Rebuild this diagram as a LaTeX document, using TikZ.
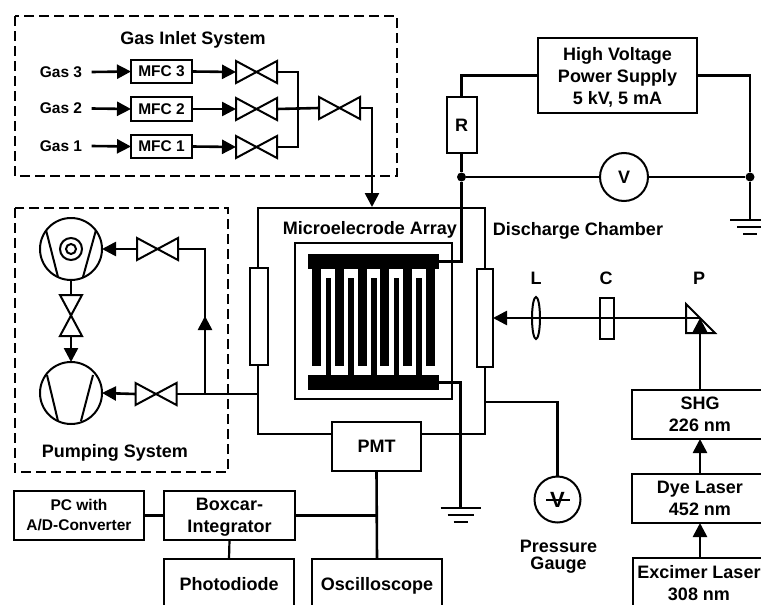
\documentclass[tikz,border=0pt]{standalone}
\usepackage{fontspec}
\setmainfont{Liberation Sans}
\usetikzlibrary{arrows.meta,calc}
\tikzset{
  x=1pt,y=-1pt,
  txt/.style={font=\bfseries\fontsize{18}{22}\selectfont,inner sep=0pt,outer sep=0pt,align=center},
  small/.style={font=\bfseries\fontsize{15.5}{20}\selectfont,inner sep=0pt,outer sep=0pt,align=center},
  box/.style={draw,line width=2pt,fill=white,inner sep=0pt,outer sep=0pt,align=center},
  bigbox/.style={box,font=\bfseries\fontsize{18}{22}\selectfont},
  smallbox/.style={box,font=\bfseries\fontsize{15.5}{20}\selectfont},
  conn/.style={line width=2.6pt},
  thin conn/.style={line width=2.2pt},
  flow/.style={line width=2.6pt,-{Triangle[length=14pt,width=14pt]}},
  dashedbox/.style={draw,line width=2.5pt,dash pattern=on 10pt off 5pt},
  bow/.style={line width=2pt,line join=miter,fill=white},
  pump/.style={circle,draw,line width=2pt,fill=white,inner sep=0pt,outer sep=0pt,minimum size=62pt},
  dot/.style={circle,fill=black,inner sep=0pt,minimum size=9pt},
  elec/.style={fill=black,draw=none,inner sep=0pt,outer sep=0pt},
}
\newcommand{\valveH}[3]{%
  \node[inner sep=0pt,outer sep=0pt,minimum width=41pt,minimum height=22pt] (#1) at (#2,#3) {};
  \draw[bow] (#1.north west) -- (#1.south east) -- (#1.north east) -- (#1.south west) -- cycle;}
\newcommand{\valveV}[3]{%
  \node[inner sep=0pt,outer sep=0pt,minimum width=22pt,minimum height=41pt] (#1) at (#2,#3) {};
  \draw[bow] (#1.north west) -- (#1.south east) -- (#1.south west) -- (#1.north east) -- cycle;}
\newcommand{\gnd}[1]{%
  \draw[line width=2.4pt] ($(#1)+(-20,0)$) -- ($(#1)+(20,0)$);
  \draw[line width=2.4pt] ($(#1)+(-13,7)$) -- ($(#1)+(13,7)$);
  \draw[line width=2.4pt] ($(#1)+(-7,14)$) -- ($(#1)+(7,14)$);}
\begin{document}
\begin{tikzpicture}
\useasboundingbox (0,0) rectangle (761,605);
\clip (0,0) rectangle (761,605);

% Dashed enclosures
\draw[dashedbox] (15,16) rectangle (397,176);
\draw[dashedbox] (15,208) rectangle (228,472);
\node[txt] (gastitle) at (193,39.5) {Gas Inlet System};
\node[txt] (pumptitle) at (115,453) {Pumping System};

% Gas inlet
\node[small,inner xsep=9.5pt] (g3) at (61,72) {Gas 3};
\node[small,inner xsep=9.5pt] (g2) at (61,108.5) {Gas 2};
\node[small,inner xsep=9.5pt] (g1) at (61,146) {Gas 1};
\node[smallbox,minimum width=61pt,minimum height=23pt] (m3) at (161.5,71.5) {MFC 3};
\node[smallbox,minimum width=61pt,minimum height=24pt] (m2) at (161.5,109) {MFC 2};
\node[smallbox,minimum width=61pt,minimum height=23pt] (m1) at (161.5,146.5) {MFC 1};
\valveH{v3}{256.5}{72}
\valveH{v2}{256.5}{109}
\valveH{v1}{256.5}{147}
\valveH{vm}{339.5}{108}
\foreach \a/\b in {g3/m3,g2/m2,g1/m1,m3/v3,m2/v2,m1/v1}
  \draw[flow] (\a.east) -- (\b.west);
\coordinate (cj) at (298,108);
\draw[conn,line join=miter] (v3.east) -| (cj) |- (v1.east);
\draw[conn] (v2.east) -- (vm.west);

% Chamber
\node[draw,line width=2pt,inner sep=0pt,outer sep=0pt,minimum width=227pt,minimum height=226pt] (chamber) at (371.5,321) {};
\node[draw,line width=2pt,inner sep=0pt,outer sep=0pt,minimum width=157pt,minimum height=156pt] (inner) at (373.5,321) {};
\draw[flow] (vm.east) -| (372,207);
\node[txt] (mea) at (370,229.5) {Microelecrode Array};
\node[txt] (dc) at (578,231) {Discharge Chamber};
\node[box,minimum width=18pt,minimum height=97pt] (winl) at (259,316.5) {};
\node[box,minimum width=16pt,minimum height=98pt] (winr) at (485,318) {};

% Electrodes
\node[elec,minimum width=131pt,minimum height=15pt] (etop) at (373.5,261.5) {};
\node[elec,minimum width=131pt,minimum height=15pt] (ebot) at (373.5,382.5) {};
\foreach \x in {312,335,358,380,403,425.5}
  \fill (\x,268) rectangle (\x+9,366);
\foreach \x in {325.5,348,371,393.5,416}
  \fill (\x,278) rectangle (\x+5.5,376);

% Power supply and resistor
\node[bigbox,minimum width=159pt,minimum height=75pt] (hv) at (617.5,75.5) {\rule{0pt}{16.5pt}High Voltage\\Power Supply\\5 kV, 5 mA};
\node[bigbox,minimum width=30pt,minimum height=56pt] (R) at (461.5,125) {R};
\node[circle,draw,line width=2pt,fill=white,inner sep=0pt,outer sep=0pt,minimum size=48pt,font=\bfseries\fontsize{18}{22}\selectfont] (V) at (624,177) {V};
\node[dot] (d1) at (461.5,177) {};
\node[dot] (d2) at (750,177) {};
\coordinate (g1top) at (750,220);
\coordinate (g2top) at (460.5,508);
\draw[conn] (hv.west) -| (R.north);
\draw[conn] (R.south) -- (d1);
\draw[conn] (d1) -- (V.west);
\draw[conn] (V.east) -- (d2);
\draw[conn] (hv.east) -| (d2);
\draw[conn] (d2) -- (g1top);
\gnd{g1top}
\draw[conn,line join=miter] (d1) |- (etop.east);
\draw[conn,line join=miter] (ebot.east) -| (g2top);
\gnd{g2top}

% Pumps
\node[pump] (p1) at (71,249) {};
\node[pump] (p2) at (71,393) {};
\draw[line width=2pt] (46,230) -- (58,277) (96,230) -- (83,277);
\draw[line width=2pt] (47,375) -- (58,421) (93,375) -- (81,421);
\draw[line width=2pt] (71,249) circle (11) (71,249) circle (5);
\valveH{vp1}{157.5}{249}
\valveH{vp2}{156}{394}
\valveV{vp3}{71}{315.5}
\coordinate (pj) at (205,394);
\draw[flow] (vp1.west) -- (p1.east);
\draw[flow] (vp2.west) -- (p2.east);
\draw[conn] (p1.south) -- (vp3.north);
\draw[flow] (vp3.south) -- (p2.north);
\draw[conn] (vp2.east) -- (chamber.west |- vp2.east);
\draw[conn,line join=miter] (pj) |- (vp1.east);
\coordinate (pa) at (205,332);
\coordinate (pb) at (205,316);
\draw[flow] (pa) -- (pb);

% Lower left blocks
\node[bigbox,minimum width=89pt,minimum height=49pt] (pmt) at (376.5,446.5) {PMT};
\node[smallbox,minimum width=130pt,minimum height=49pt] (pc) at (79,515.5) {PC with\\A/D-Converter};
\node[bigbox,minimum width=131pt,minimum height=49pt] (boxcar) at (229.5,515.5) {\rule{0pt}{16pt}Boxcar-\\Integrator};
\node[bigbox,minimum width=130pt,minimum height=50pt] (pd) at (229,584) {Photodiode};
\node[bigbox,minimum width=130pt,minimum height=50pt,text height=13pt,text depth=0pt] (osc) at (377,584) {Oscilloscope};
\draw[thin conn] (pc.east) -- (boxcar.west);
\draw[thin conn] (boxcar.south) -- (pd.north);
\draw[conn] (pmt.south) -- (osc.north);
\draw[conn] (boxcar.east) -- (boxcar.east -| pmt.south);

% Optics
\node[bigbox,minimum width=136pt,minimum height=49pt] (shg) at (700,414.5) {SHG\\226 nm};
\node[bigbox,minimum width=136pt,minimum height=49pt] (dye) at (700,498.5) {Dye Laser\\452 nm};
\node[bigbox,minimum width=132pt,minimum height=50pt] (exc) at (699,583) {Excimer Laser\\308 nm};
\node[txt] (lL) at (536,278) {L};
\node[txt] (lC) at (606,278) {C};
\node[txt] (lP) at (699,278) {P};
\coordinate (pr) at (700,318);
\draw[line width=2pt,line join=miter] (686,304) -- (715,333) -- (686,333) -- cycle;
\draw[flow] (pr) -- (winr.east);
\draw[line width=2pt] (536,318) ellipse (4 and 21);
\node[draw,line width=2pt,inner sep=0pt,minimum width=14pt,minimum height=41pt] (C) at (607,318.5) {};
\draw[flow] (shg.north) -- (pr);
\draw[flow] (dye.north) -- (shg.south);
\draw[flow] (dye.south |- exc.north) -- (dye.south);

% Pressure gauge
\node[circle,draw,line width=2pt,inner sep=0pt,outer sep=0pt,minimum size=46pt,font=\bfseries\fontsize{22}{22}\selectfont] (pg) at (557.5,499.5) {V};
\draw[line width=2.2pt] (546,500) -- (570,500);
\coordinate (cw) at (chamber.east |- 0,402);
\draw[conn,line join=miter] (cw) -| (pg.north);
\node[font=\bfseries\fontsize{18}{17}\selectfont,inner sep=0pt,outer sep=0pt,align=center] (pgt) at (558.5,557) {Pressure\\Gauge};
\end{tikzpicture}
\end{document}
